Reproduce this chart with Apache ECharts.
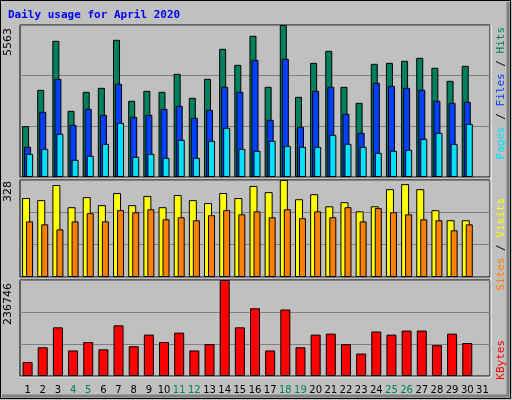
<!DOCTYPE html>
<html><head><meta charset="utf-8">
<script src="https://cdn.jsdelivr.net/npm/echarts@6/dist/echarts.min.js"></script>
<style>html,body{margin:0;padding:0;background:#C0C0C0}#c{width:512px;height:400px}</style>
</head><body><div id="c"></div>
<script>
const days = ['1','2','3','4','5','6','7','8','9','10','11','12','13','14','15','16','17','18','19','20','21','22','23','24','25','26','27','28','29','30','31'];
const weekend = ['4','5','11','12','18','19','25','26'];
const hits  = [1860,3190,4984,2422,3117,3264,5020,2788,3154,3117,3776,2898,3593,4691,4105,5167,3300,5563,2934,4178,4618,3300,2715,4142,4178,4252,4362,3996,3520,4069,null];
const files = [1104,2385,3593,1909,2495,2275,3410,2202,2275,2495,2605,2166,2458,3300,3117,4288,2092,4325,1836,3154,3300,2312,1617,3447,3337,3264,3190,2788,2715,2752,null];
const pages = [848,1031,1580,628,775,1214,1983,738,848,702,1360,702,1324,1800,1031,958,1324,1141,1104,1104,1543,1214,1104,885,958,995,1397,1617,1214,1946,null];
const visits= [267,260,311,236,270,243,284,243,274,236,277,260,250,284,267,308,287,328,263,280,239,253,222,239,297,314,297,226,192,192,null];
const sites = [188,178,161,188,216,188,226,219,229,195,202,192,209,226,212,222,202,229,199,222,202,236,188,233,219,212,195,192,158,178,null];
const kbytes= [34600,70800,120000,63000,83800,65700,125000,73400,102000,83800,107000,63000,78600,236746,120000,167000,63000,164000,70800,102000,104500,78600,55300,109700,102000,112000,112000,76000,104500,81200,null];
const maxLabels = ['5563','328','236746'];

const chart = echarts.init(document.getElementById('c'));
const L=20, R=22;
const grids=[{left:L,right:R,top:25,height:152},{left:L,right:R,top:180,height:97},{left:L,right:R,top:280,height:96}];
const maxes=[5563,328,236746];
const bs={borderColor:'#000',borderWidth:1};
function xa(i){return {type:'category',gridIndex:i,data:days,axisLine:{show:false},axisTick:{show:false},
  axisLabel:{show:i===2,interval:0,margin:9,fontFamily:'DejaVu Sans',fontSize:10,formatter:v=>weekend.includes(v)?'{w|'+v+'}':'{n|'+v+'}',
  rich:{w:{color:'#00805C',fontFamily:'DejaVu Sans',fontSize:10},n:{color:'#000',fontFamily:'DejaVu Sans',fontSize:10}}}};}
function ya(i){return {type:'value',gridIndex:i,min:0,max:maxes[i],interval:maxes[i]/3,axisLabel:{show:false},axisLine:{show:false},axisTick:{show:false},splitLine:{lineStyle:{color:'#808080',width:1}}};}
chart.setOption({
  animation:false,
  backgroundColor:'#C0C0C0',
  grid:grids.map(g=>Object.assign({show:true,backgroundColor:'#C0C0C0',borderColor:'#000',borderWidth:1},g)),
  xAxis:[xa(0),xa(1),xa(2)],
  yAxis:[ya(0),ya(1),ya(2)],
  series:[
    {type:'bar',name:'Hits',xAxisIndex:0,yAxisIndex:0,data:hits,barWidth:7,barGap:'-71%',itemStyle:Object.assign({color:'#00805C'},bs)},
    {type:'bar',name:'Files',xAxisIndex:0,yAxisIndex:0,data:files,barWidth:7,barGap:'-71%',itemStyle:Object.assign({color:'#0040FF'},bs)},
    {type:'bar',name:'Pages',xAxisIndex:0,yAxisIndex:0,data:pages,barWidth:7,barGap:'-71%',itemStyle:Object.assign({color:'#00E0FF'},bs)},
    {type:'bar',name:'Visits',xAxisIndex:1,yAxisIndex:1,data:visits,barWidth:8,barGap:'-50%',itemStyle:Object.assign({color:'#FFFF00'},bs)},
    {type:'bar',name:'Sites',xAxisIndex:1,yAxisIndex:1,data:sites,barWidth:7,barGap:'-50%',itemStyle:Object.assign({color:'#FF8000'},bs)},
    {type:'bar',name:'KBytes',xAxisIndex:2,yAxisIndex:2,data:kbytes,barWidth:10,itemStyle:Object.assign({color:'#FF0000'},bs)}
  ],
  graphic:[
    {type:'rect',shape:{x:0.5,y:0.5,width:510,height:398},style:{fill:'none',stroke:'#000',lineWidth:1}},
    {type:'polyline',shape:{points:[[508,2],[508,396],[2,396]]},style:{stroke:'#808080',lineWidth:3,fill:'none'}},
    {type:'polyline',shape:{points:[[491,25],[491,377],[20,377]]},style:{stroke:'#fff',lineWidth:1,fill:'none'}},
    {type:'text',x:8,y:15,style:{text:'Daily usage for April 2020',fill:'#0000FF',fontFamily:'DejaVu Sans Mono',fontWeight:'bold',fontSize:11,verticalAlign:'middle'}},
    {type:'text',x:8,y:28,rotation:Math.PI/2,style:{text:maxLabels[0],fill:'#000',fontFamily:'DejaVu Sans',fontSize:11,align:'right',verticalAlign:'middle'}},
    {type:'text',x:8,y:181,rotation:Math.PI/2,style:{text:maxLabels[1],fill:'#000',fontFamily:'DejaVu Sans',fontSize:11,align:'right',verticalAlign:'middle'}},
    {type:'text',x:8,y:283,rotation:Math.PI/2,style:{text:maxLabels[2],fill:'#000',fontFamily:'DejaVu Sans',fontSize:11,align:'right',verticalAlign:'middle'}},
    {type:'text',x:501,y:27,rotation:Math.PI/2,style:{text:'{p|Pages} / {f|Files} / {h|Hits}',rich:{p:{fill:'#00E0FF',fontFamily:'DejaVu Sans Mono',fontSize:11},f:{fill:'#0040FF',fontFamily:'DejaVu Sans Mono',fontSize:11},h:{fill:'#00805C',fontFamily:'DejaVu Sans Mono',fontSize:11}},fill:'#000',fontFamily:'DejaVu Sans Mono',fontSize:11,align:'right',verticalAlign:'middle'}},
    {type:'text',x:501,y:198,rotation:Math.PI/2,style:{text:'{s|Sites} / {v|Visits}',rich:{s:{fill:'#FF8000',fontFamily:'DejaVu Sans Mono',fontSize:11},v:{fill:'#FFFF00',fontFamily:'DejaVu Sans Mono',fontSize:11}},fill:'#000',fontFamily:'DejaVu Sans Mono',fontSize:11,align:'right',verticalAlign:'middle'}},
    {type:'text',x:501,y:340,rotation:Math.PI/2,style:{text:'KBytes',fill:'#FF0000',fontFamily:'DejaVu Sans Mono',fontSize:11,align:'right',verticalAlign:'middle'}}
  ]
});
</script></body></html>
